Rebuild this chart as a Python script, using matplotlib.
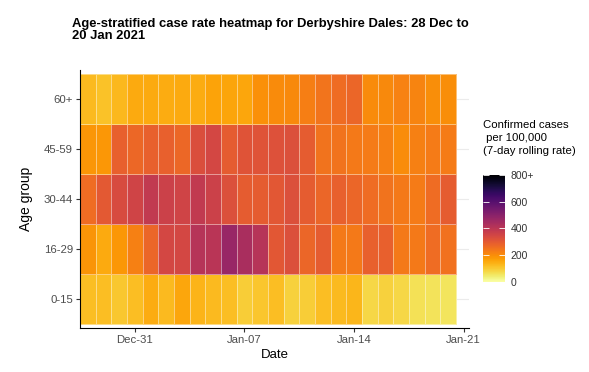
import matplotlib
matplotlib.use("Agg")
import matplotlib.pyplot as plt
import matplotlib.dates as mdates
import numpy as np
import pandas as pd

plt.rcParams['font.family'] = ['Liberation Sans', 'DejaVu Sans']

# data: 7-day rolling case rate per 100,000, 28 Dec 2020 .. 20 Jan 2021
dates = pd.date_range("2020-12-28", "2021-01-20", freq="D")
age_groups = ["0-15", "16-29", "30-44", "45-59", "60+"]

rate_0_15 = [120, 120, 105, 120, 148, 125, 158, 135, 125, 120, 95, 108,
             120, 90, 95, 120, 125, 133, 80, 90, 80, 65, 62, 58]
rate_16_29 = [190, 152, 182, 222, 272, 345, 345, 410, 405, 470, 435, 410,
              305, 322, 272, 295, 235, 235, 285, 285, 235, 235, 262, 250]
rate_30_44 = [262, 300, 335, 355, 385, 365, 355, 385, 365, 322, 295, 295,
              305, 322, 295, 272, 285, 272, 262, 248, 235, 232, 262, 295]
rate_45_59 = [185, 182, 285, 270, 285, 285, 270, 325, 345, 295, 315, 315,
              320, 322, 295, 248, 248, 235, 232, 222, 200, 222, 232, 232]
rate_60 = [125, 115, 130, 150, 150, 148, 150, 148, 165, 162, 158, 195,
           205, 208, 225, 245, 262, 272, 205, 208, 220, 218, 198, 198]

cbar_ticks = [0, 200, 400, 600, 800]
cbar_labels = ["0", "200", "400", "600", "800+"]

rates = np.array([rate_0_15, rate_16_29, rate_30_44, rate_45_59, rate_60])

fig = plt.figure(figsize=(5.89, 3.72), dpi=100)
ax = fig.add_axes([0.136, 0.118, 0.661, 0.694])

x_mid = mdates.date2num(dates)
x_edges = np.append(x_mid - 0.5, x_mid[-1] + 0.5)
y_edges = np.arange(len(age_groups) + 1) - 0.5

mesh = ax.pcolormesh(x_edges, y_edges, rates, cmap="inferno_r", vmin=0, vmax=800,
                     edgecolors=(1, 1, 1, 0.45), linewidth=0.6, zorder=2)

ax.set_xlim(x_edges[0], x_mid[0] + 24.37)
ax.set_ylim(-0.58, len(age_groups) - 0.42)

ax.set_yticks(range(len(age_groups)))
ax.set_yticklabels(age_groups)
ax.xaxis.set_major_locator(mdates.DayLocator(bymonthday=[7, 14, 21, 31]))
ax.xaxis.set_major_formatter(mdates.DateFormatter("%b-%d"))

ax.grid(axis="y", color="#EBEBEB", linewidth=0.8, zorder=0)
for s in ["top", "right"]:
    ax.spines[s].set_visible(False)
for s in ["left", "bottom"]:
    ax.spines[s].set_color("black")
    ax.spines[s].set_linewidth(0.8)
ax.tick_params(length=3, width=0.8, color="#333333", labelsize=8.2, labelcolor="#4D4D4D", pad=2)

ax.set_xlabel("Date", fontsize=9.5, labelpad=3)
ax.set_ylabel("Age group", fontsize=10, labelpad=8)

fig.text(0.122, 0.952, "Age-stratified case rate heatmap for Derbyshire Dales: 28 Dec to\n20 Jan 2021",
         fontsize=9.4, fontweight="bold", va="top", ha="left", linespacing=1.0)

# colour legend
cax = fig.add_axes([0.820, 0.242, 0.037, 0.288])
cb = fig.colorbar(mesh, cax=cax, ticks=cbar_ticks)
cb.set_ticklabels(cbar_labels)
cb.outline.set_visible(False)
cax.tick_params(left=True, right=True, direction="in", length=4, width=0.6,
                color="white", labelcolor="#333333", labelsize=7.5, pad=4)
fig.text(0.820, 0.677, "Confirmed cases\n per 100,000\n(7-day rolling rate)",
         fontsize=8.2, va="top", ha="left", linespacing=1.35)

fig.savefig("out.png", dpi=100)
